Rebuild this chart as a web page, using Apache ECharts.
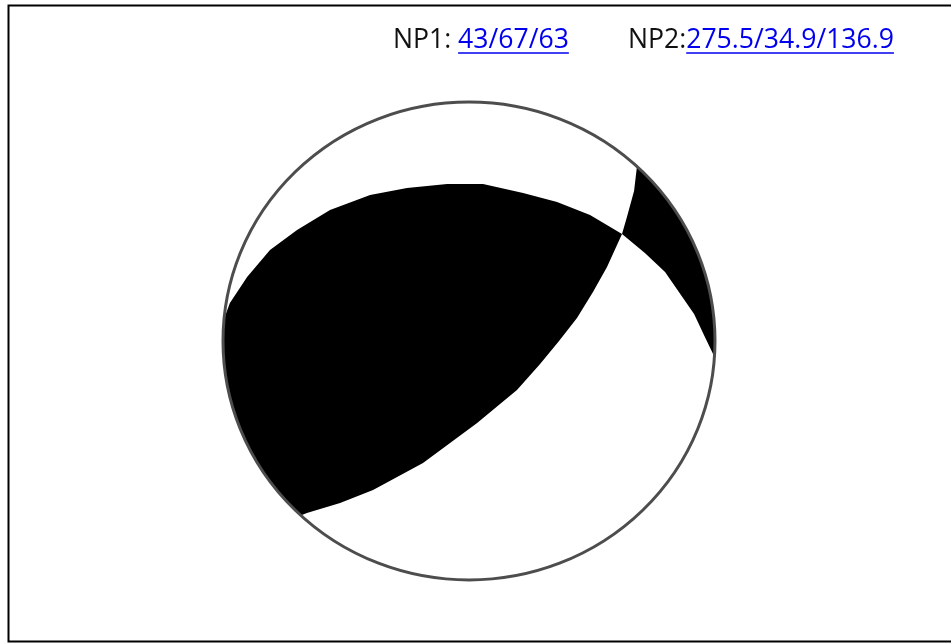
<!DOCTYPE html>
<html>
<head>
<meta charset="utf-8">
<title>Focal mechanism</title>
<script src="https://cdn.jsdelivr.net/npm/echarts@6/dist/echarts.min.js"></script>
<style>
html, body { margin: 0; padding: 0; background: #fff; }
#chart { width: 951px; height: 643px; }
</style>
</head>
<body>
<div id="chart"></div>
<script>
// nodal plane labels (strike/dip/rake)
var np1Label = '43/67/63';
var np2Label = '275.5/34.9/136.9';

// nodal plane traces, unit circle coords (x = east, y = north)
var np2West = [[-0.996, 0.092], [-0.972, 0.159], [-0.902, 0.268], [-0.809, 0.381], [-0.699, 0.464],
    [-0.565, 0.548], [-0.402, 0.611], [-0.252, 0.640], [-0.089, 0.657], [0.057, 0.657],
    [0.220, 0.619], [0.358, 0.582], [0.492, 0.527], [0.622, 0.448]];
var np2East = [[0.622, 0.448], [0.715, 0.368], [0.797, 0.289], [0.915, 0.113], [0.959, 0.017], [1.0, -0.071]];
var np1North = [[0.683, 0.732], [0.671, 0.628], [0.642, 0.519], [0.622, 0.448]];
var np1South = [[0.622, 0.448], [0.561, 0.310], [0.504, 0.205], [0.439, 0.096], [0.366, 0.0],
    [0.289, -0.096], [0.195, -0.205], [0.033, -0.343], [-0.187, -0.510], [-0.390, -0.623],
    [-0.524, -0.678], [-0.659, -0.720], [-0.679, -0.728]];
// points just outside the ball to close the black areas (hidden under the white ring)
var closeWest = [[-0.85, -0.95], [-1.2, -0.3], [-1.15, 0.1]];
var closeEast = [[1.15, -0.1], [1.15, 0.5], [0.8, 0.9]];

var blackAreas = [
    np2West.concat(np1South.slice(1), closeWest),
    np1North.concat(np2East.slice(1), closeEast)
];

var font = '26.6px "Open Sans"';
var linkColor = '#0000ee';
var ctx = document.createElement('canvas').getContext('2d');
ctx.font = font;
function tw(t) { return ctx.measureText(t).width; }

function renderBall(params, api) {
    var c = api.coord([0, 0]);
    var s = api.size([1, 1]);
    var rx = s[0], ry = s[1];
    var children = blackAreas.map(function (pts) {
        return {
            type: 'polygon',
            shape: { points: pts.map(function (p) { return api.coord(p); }) },
            style: { fill: '#000' }
        };
    });
    // white ring that trims the fill to the ball
    children.push({
        type: 'ring', x: c[0], y: c[1], scaleY: ry / rx,
        shape: { cx: 0, cy: 0, r: rx * 1.35, r0: rx },
        style: { fill: '#fff' }
    });
    children.push({
        type: 'circle', x: c[0], y: c[1], scaleY: ry / rx,
        shape: { cx: 0, cy: 0, r: rx },
        style: { fill: 'none', stroke: '#4d4d4d', lineWidth: 3 }
    });
    return { type: 'group', children: children };
}

var x1 = 393, x2 = 628, ty = 40.5, uy = 53;
var l1 = x1 + tw('NP1: '), l2 = x2 + tw('NP2:');

var myChart = echarts.init(document.getElementById('chart'));
var option = {
    backgroundColor: '#fff',
    animation: false,
    grid: { left: 223, top: 102, width: 492, height: 478 },
    xAxis: { type: 'value', min: -1, max: 1, show: false },
    yAxis: { type: 'value', min: -1, max: 1, show: false },
    graphic: [
        { type: 'rect', z: 100, shape: { x: 8.5, y: 5.5, width: 1000, height: 636 },
          style: { fill: 'none', stroke: '#000', lineWidth: 2 } },
        { type: 'text', z: 100, x: x1, y: ty, style: { text: 'NP1: ', font: font, fill: '#111', verticalAlign: 'middle' } },
        { type: 'text', z: 100, x: l1, y: ty, style: { text: np1Label, font: font, fill: linkColor, verticalAlign: 'middle' } },
        { type: 'line', z: 100, shape: { x1: l1, y1: uy, x2: l1 + tw(np1Label), y2: uy },
          style: { stroke: linkColor, lineWidth: 1.5 } },
        { type: 'text', z: 100, x: x2, y: ty, style: { text: 'NP2:', font: font, fill: '#111', verticalAlign: 'middle' } },
        { type: 'text', z: 100, x: l2, y: ty, style: { text: np2Label, font: font, fill: linkColor, verticalAlign: 'middle' } },
        { type: 'line', z: 100, shape: { x1: l2, y1: uy, x2: l2 + tw(np2Label), y2: uy },
          style: { stroke: linkColor, lineWidth: 1.5 } }
    ],
    series: [{
        type: 'custom',
        renderItem: renderBall,
        data: [[0, 0]],
        silent: true
    }]
};
myChart.setOption(option);
</script>
</body>
</html>
